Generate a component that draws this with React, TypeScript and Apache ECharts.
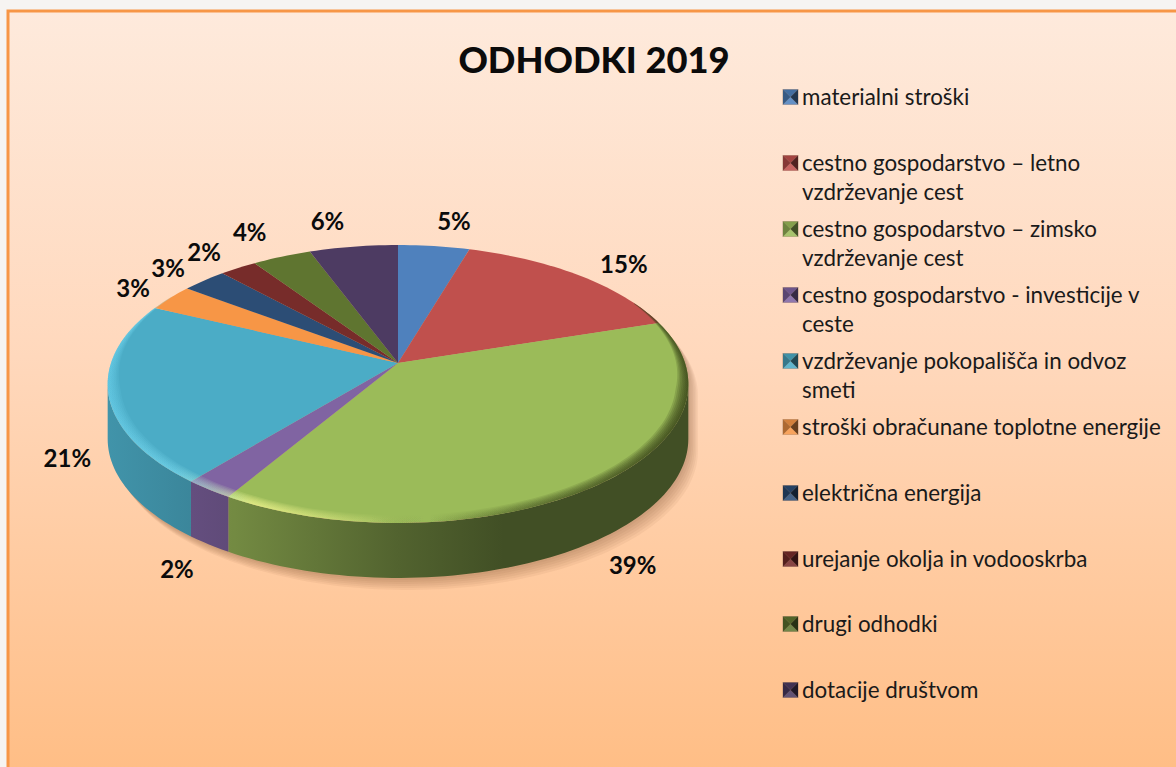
import React, { useEffect, useRef } from "react";
import * as echarts from "echarts";

const titleText = "ODHODKI 2019";
const categories = [
  "materialni stroški",
  "cestno gospodarstvo – letno vzdrževanje cest",
  "cestno gospodarstvo – zimsko vzdrževanje cest",
  "cestno gospodarstvo - investicije v ceste",
  "vzdrževanje pokopališča in odvoz smeti",
  "stroški obračunane toplotne energije",
  "električna energija",
  "urejanje okolja in vodooskrba",
  "drugi odhodki",
  "dotacije društvom",
];
const legendLines = [
  ["materialni stroški"],
  ["cestno gospodarstvo – letno", "vzdrževanje cest"],
  ["cestno gospodarstvo – zimsko", "vzdrževanje cest"],
  ["cestno gospodarstvo - investicije v", "ceste"],
  ["vzdrževanje pokopališča in odvoz", "smeti"],
  ["stroški obračunane toplotne energije"],
  ["električna energija"],
  ["urejanje okolja in vodooskrba"],
  ["drugi odhodki"],
  ["dotacije društvom"],
];
const values = [4.6, 15.4, 38.6, 2.4, 21.1, 3.1, 2.9, 2.4, 3.8, 5.7];
const percentLabels = ["5%", "15%", "39%", "2%", "21%", "3%", "3%", "2%", "4%", "6%"];
const colors = ["#4F81BD", "#C0504D", "#9BBB59", "#8064A2", "#4BACC6", "#F79646", "#2C4D75", "#772C2A", "#5F7530", "#4D3B62"];
const labelOffsets = [[20, -26], [45, -12], [32, 26], [-32, 24], [-41, 9], [-37, -10], [-36, -13], [-34, -16], [-32, -25], [-26, -26]];
const legendY = [97, 163, 229, 295, 361, 427, 493, 559, 624, 690];

const CX = 398, CY = 363, RX = 287, RY = 135.8, K = 0.151, DEPTH = 55;
const total = values.reduce((a, b) => a + b, 0);
const rad = (d: number) => (d * Math.PI) / 180;
const project = (deg: number, r = 1): number[] => {
  const u = r * Math.sin(rad(deg));
  const v = -r * Math.cos(rad(deg));
  const den = 1 - K * v;
  return [CX + (RX * u) / den, CY + (RY * v) / den];
};
const sweep = (a: number, b: number, r: (d: number) => number = () => 1, dy = 0) => {
  const n = Math.max(2, Math.ceil(Math.abs(b - a) / 1.5));
  const out: number[][] = [];
  for (let i = 0; i <= n; i++) {
    const d = a + ((b - a) * i) / n;
    const p = project(d, r(d));
    out.push([p[0], p[1] + dy]);
  }
  return out;
};
const shade = (hex: string, f: number, white = 0) => {
  const n = parseInt(hex.slice(1), 16);
  const c = [(n >> 16) & 255, (n >> 8) & 255, n & 255].map((x) => Math.min(255, Math.round(x * f + (255 - x) * white)));
  return `rgb(${c[0]},${c[1]},${c[2]})`;
};
const visFrom = 90 + (Math.asin(K) * 180) / Math.PI;
const visTo = 360 - visFrom;
const minX = project(visTo)[0] - 2;
const maxX = project(visFrom)[0] + 2;
const sideFill = (hex: string) => ({
  type: "linear", x: minX, y: 0, x2: maxX, y2: 0, global: true,
  colorStops: [
    { offset: 0, color: shade(hex, 0.86) },
    { offset: 0.22, color: shade(hex, 0.74) },
    { offset: 0.5, color: shade(hex, 0.53) },
    { offset: 0.68, color: shade(hex, 0.42) },
    { offset: 1, color: shade(hex, 0.42) },
  ],
});
const bevelFill = (alpha: number) => ({
  type: "linear", x: minX, y: 0, x2: maxX, y2: 0, global: true,
  colorStops: [
    { offset: 0, color: `rgba(120,225,255,${0.3 * alpha})` },
    { offset: 0.12, color: `rgba(140,235,255,${0.3 * alpha})` },
    { offset: 0.25, color: `rgba(255,255,150,${0.5 * alpha})` },
    { offset: 0.45, color: `rgba(255,255,150,${0.12 * alpha})` },
    { offset: 0.55, color: "rgba(50,60,20,0)" },
    { offset: 0.72, color: `rgba(50,60,20,${0.35 * alpha})` },
    { offset: 1, color: `rgba(50,60,20,${0.7 * alpha})` },
  ],
});
const bevelWidth = (w: number) => (d: number) => {
  const v = -Math.cos(rad(d));
  const t = Math.max(0, Math.min(1, (v + 0.55) / 0.75));
  return 1 - w * t;
};

const renderSlice = (_p: any, api: any) => {
  const i = api.value(1);
  let acc = 0;
  for (let j = 0; j < i; j++) acc += values[j];
  const a0 = (acc / total) * 360;
  const a1 = ((acc + values[i]) / total) * 360;
  const mid = (a0 + a1) / 2;
  const children: any[] = [];
  const s = Math.max(a0, visFrom), e = Math.min(a1, visTo);
  if (e > s) {
    const top = sweep(s, e);
    const bottom = sweep(s, e, () => 1, DEPTH).reverse();
    children.push({
      type: "polygon", z2: 1,
      shape: { points: top.concat(bottom) },
      style: { fill: sideFill(colors[i]) },
    });
  }
  children.push({
    type: "polygon", z2: 2,
    shape: { points: [[CX, CY]].concat(sweep(a0, a1)) },
    style: { fill: colors[i] },
  });
  const rim = project(mid);
  const off = labelOffsets[i];
  children.push({
    type: "text", z2: 5,
    style: {
      x: rim[0] + off[0], y: rim[1] + off[1] + (mid > visFrom && mid < visTo ? DEPTH : 0),
      text: percentLabels[i], fill: "#0b0b0b", font: "bold 24px Lato, Carlito, sans-serif",
      align: "center", verticalAlign: "middle",
    },
  });
  return { type: "group", children };
};

const renderShadow = () => {
  const front = sweep(visFrom, visTo, () => 1, DEPTH);
  const outline = front.concat(sweep(visTo, visFrom + 360));
  const layers = [12, 10, 8, 6, 4, 2];
  return {
    type: "group",
    children: layers.map((o) => ({
      type: "polygon",
      shape: { points: outline },
      x: o * 0.8, y: o,
      style: { fill: "rgba(120,75,40,0.065)" },
    })),
  };
};

const renderBevel = () => {
  const from = 62, to = 303;
  const strip = (w: number, alpha: number) => ({
    type: "polygon",
    shape: { points: sweep(from, to).concat(sweep(from, to, bevelWidth(w)).reverse()) },
    style: { fill: bevelFill(alpha) },
  });
  return {
    type: "group",
    children: [0.042, 0.036, 0.03, 0.024, 0.018, 0.012, 0.006].map((w) => strip(w, 0.28)),
  };
};

const legendGraphic = () => {
  const out: any[] = [];
  const S = 15, X = 783;
  legendLines.forEach((lines, i) => {
    const y0 = legendY[i] - S / 2;
    const c = colors[i];
    const mx = X + S / 2, my = y0 + S / 2;
    const tri = (pts: number[][], fill: string) => ({ type: "polygon", shape: { points: pts }, style: { fill } });
    out.push({
      type: "group",
      children: [
        { type: "rect", shape: { x: X - 0.5, y: y0 - 0.5, width: S + 1, height: S + 1 }, style: { fill: "rgba(140,110,90,0.55)" } },
        tri([[X, y0], [X + S, y0], [mx, my]], shade(c, 0.85)),
        tri([[X, y0 + S], [X + S, y0 + S], [mx, my]], shade(c, 1, 0.12)),
        tri([[X, y0], [X, y0 + S], [mx, my]], shade(c, 0.7)),
        tri([[X + S, y0], [X + S, y0 + S], [mx, my]], shade(c, 0.42)),
      ],
    });
    lines.forEach((ln, k) => {
      out.push({
        type: "text",
        style: {
          x: 802, y: legendY[i] - 1 + k * 29.5, text: ln, fill: "#1a1a1a",
          font: "22.4px Lato, Carlito, sans-serif", verticalAlign: "middle", align: "left",
        },
      });
    });
  });
  return out;
};

export default function App() {
  const ref = useRef<HTMLDivElement>(null);
  useEffect(() => {
    document.body.style.margin = "0";
    const chart = echarts.init(ref.current!, null, { renderer: "svg" });
    chart.setOption({
      animation: false,
      backgroundColor: "#F6F4F2",
      title: {
        text: titleText, left: 589, top: 36, textAlign: "center",
        textStyle: { fontFamily: "Lato, Carlito, sans-serif", fontSize: 36.3, fontWeight: 900, color: "#0b0b0b" },
      },
      graphic: [
        {
          type: "rect", z: -1, silent: true,
          shape: { x: 8, y: 11, width: 1180, height: 770 },
          style: {
            stroke: "#F79646", lineWidth: 3,
            fill: {
              type: "linear", x: 0, y: 0, x2: 0, y2: 1,
              colorStops: [
                { offset: 0, color: "#FEEADC" },
                { offset: 0.45, color: "#FFD8BC" },
                { offset: 1, color: "#FFBD84" },
              ],
            },
          },
        },
        ...legendGraphic(),
      ],
      series: [
        { type: "custom", coordinateSystem: "none", z: 1, silent: true, data: [[0]], renderItem: renderShadow },
        {
          type: "custom", coordinateSystem: "none", z: 2, silent: true,
          data: categories.map((name, i) => ({ name, value: [values[i], i] })),
          encode: { value: 0 },
          renderItem: renderSlice,
        },
        { type: "custom", coordinateSystem: "none", z: 3, silent: true, data: [[0]], renderItem: renderBevel },
      ],
    });
    return () => chart.dispose();
  }, []);
  return <div ref={ref} style={{ position: "absolute", left: 0, top: 0, width: 1176, height: 767 }} />;
}
